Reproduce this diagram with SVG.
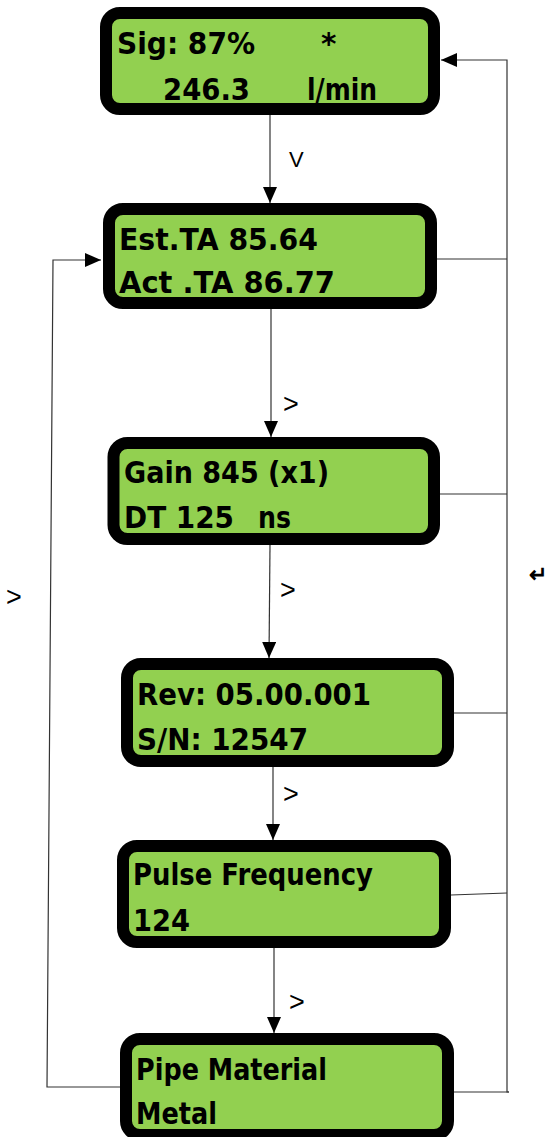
<svg xmlns="http://www.w3.org/2000/svg" width="547" height="1137" viewBox="0 0 547 1137">
<style>
.box{fill:#92d050;stroke:#000;stroke-width:12}
.t{font-family:"DejaVu Sans",Verdana,sans-serif;font-weight:bold;font-size:29.5px;fill:#000}
.c{stroke:#333;stroke-width:1.2;fill:none}
.l{font-family:"Liberation Sans",Arial,sans-serif;font-size:22px;fill:#000}
.g{font-family:"Liberation Sans",Arial,sans-serif;font-size:27px;fill:#000}
</style>
<defs>
<marker id="ah" markerUnits="userSpaceOnUse" markerWidth="16" markerHeight="14" refX="16" refY="7" orient="auto">
<path d="M0,0 L16,7 L0,14 z" fill="#000"/>
</marker>
</defs>
<rect width="547" height="1137" fill="#fff"/>
<g id="connectors">
<line class="c" x1="270" y1="115" x2="270" y2="203" marker-end="url(#ah)"/>
<line class="c" x1="271" y1="309" x2="271" y2="437" marker-end="url(#ah)"/>
<line class="c" x1="270" y1="545" x2="269" y2="658" marker-end="url(#ah)"/>
<line class="c" x1="273" y1="767" x2="273" y2="840" marker-end="url(#ah)"/>
<line class="c" x1="274" y1="948" x2="274" y2="1033" marker-end="url(#ah)"/>
<polyline class="c" points="509,1092 507,1092 507,60 441,60" marker-end="url(#ah)"/>
<line class="c" x1="437" y1="259" x2="507" y2="259"/>
<line class="c" x1="440" y1="494" x2="507" y2="494"/>
<line class="c" x1="454" y1="713" x2="507" y2="713"/>
<line class="c" x1="451" y1="895" x2="507" y2="893"/>
<line class="c" x1="454" y1="1092" x2="509" y2="1092"/>
<polyline class="c" points="120,1087 47,1087 53,260 101,260" marker-end="url(#ah)"/>
<text class="l" x="289" y="167">V</text>
<text class="g" x="283" y="413">&gt;</text>
<text class="g" x="280" y="599">&gt;</text>
<text class="g" x="283" y="803">&gt;</text>
<text class="g" x="289" y="1011">&gt;</text>
<text class="g" x="6" y="606">&gt;</text>
<text class="l" x="529" y="582" font-size="24" font-weight="bold">↵</text>
</g>
<g id="n1">
<rect class="box" x="106" y="13" width="328" height="96" rx="14"/>
<text class="t" x="117" y="54" textLength="138" lengthAdjust="spacingAndGlyphs">Sig: 87%</text>
<text class="t" x="321" y="54">*</text>
<text class="t" x="163" y="100" textLength="87" lengthAdjust="spacingAndGlyphs">246.3</text>
<text class="t" x="307" y="100" textLength="70" lengthAdjust="spacingAndGlyphs">l/min</text>
</g>
<g id="n2">
<rect class="box" x="109" y="209" width="322" height="94" rx="14"/>
<text class="t" x="119" y="250" textLength="199" lengthAdjust="spacingAndGlyphs">Est.TA 85.64</text>
<text class="t" x="119" y="293" textLength="216" lengthAdjust="spacingAndGlyphs">Act .TA 86.77</text>
</g>
<g id="n3">
<rect class="box" x="113.5" y="443" width="320.5" height="96" rx="14"/>
<text class="t" x="124" y="483" textLength="205" lengthAdjust="spacingAndGlyphs">Gain 845 (x1)</text>
<text class="t" x="124" y="528" textLength="110" lengthAdjust="spacingAndGlyphs">DT 125</text>
<text class="t" x="258" y="528" textLength="33" lengthAdjust="spacingAndGlyphs">ns</text>
</g>
<g id="n4">
<rect class="box" x="127" y="664" width="321" height="97" rx="14"/>
<text class="t" x="137" y="705" textLength="234" lengthAdjust="spacingAndGlyphs">Rev: 05.00.001</text>
<text class="t" x="137" y="750" textLength="171" lengthAdjust="spacingAndGlyphs">S/N: 12547</text>
</g>
<g id="n5">
<rect class="box" x="123" y="846" width="322" height="96" rx="14"/>
<text class="t" x="133" y="885" textLength="240" lengthAdjust="spacingAndGlyphs">Pulse Frequency</text>
<text class="t" x="133" y="931" textLength="57" lengthAdjust="spacingAndGlyphs">124</text>
</g>
<g id="n6">
<rect class="box" x="126" y="1039" width="322" height="96" rx="14"/>
<text class="t" x="136" y="1080" textLength="191" lengthAdjust="spacingAndGlyphs">Pipe Material</text>
<text class="t" x="136" y="1124" textLength="81" lengthAdjust="spacingAndGlyphs">Metal</text>
</g>
</svg>
